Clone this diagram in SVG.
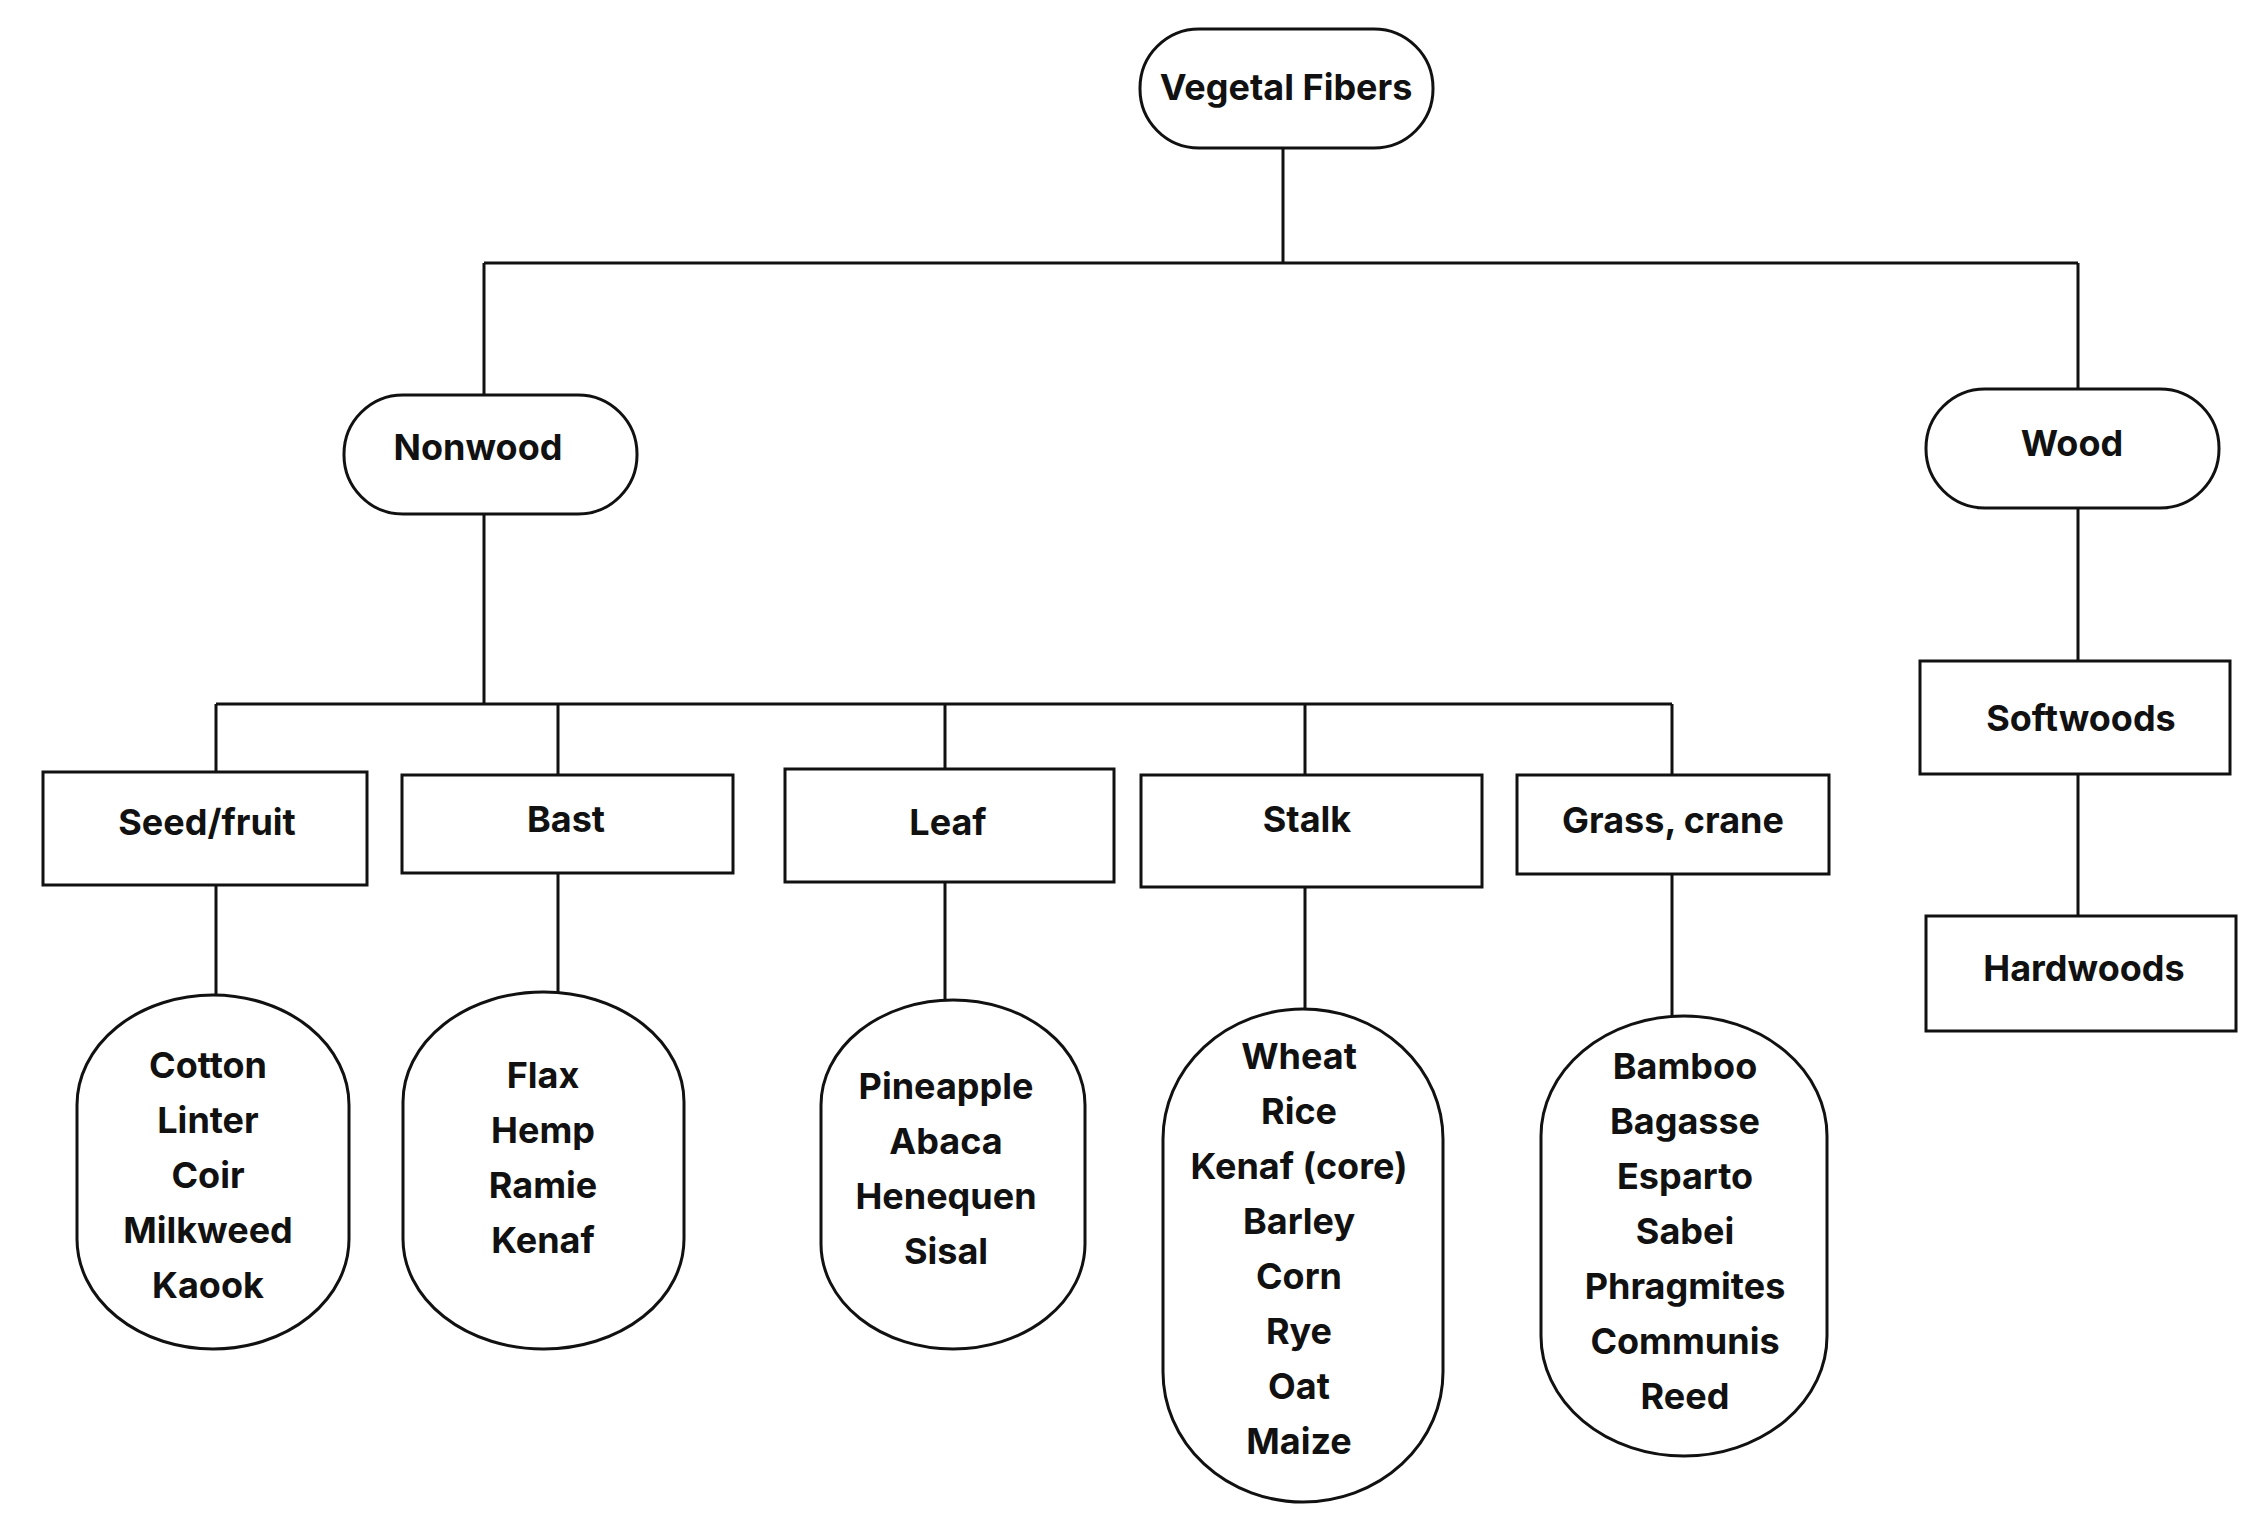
<svg xmlns="http://www.w3.org/2000/svg" width="2255" height="1526" viewBox="0 0 2255 1526">
<style>
.s{fill:#fff;stroke:#111;stroke-width:3}
.c{fill:none;stroke:#111;stroke-width:3}
text{font-family:Inter,"Open Sans",sans-serif;font-weight:700;font-size:36px;text-anchor:middle;fill:#111}
</style>
<rect width="2255" height="1526" fill="#fff"/>
<g id="connectors">
<path class="c" d="M1283 148V263M484 263H2078M484 263V395M2078 263V389M484 514V704M216 704H1672M216 704V772M558 704V775M945 704V769M1305 704V775M1672 704V775M216 885V995M558 873V992M945 882V1000M1305 887V1009M1672 874V1016M2078 508V661M2078 774V916"/>
</g>
<g id="vegetal"><rect class="s" x="1140" y="29" width="293" height="119" rx="59"/><text x="1286" y="100">Vegetal Fibers</text></g>
<g id="nonwood"><rect class="s" x="344" y="395" width="293" height="119" rx="59"/><text x="478" y="460">Nonwood</text></g>
<g id="wood"><rect class="s" x="1926" y="389" width="293" height="119" rx="59"/><text x="2072" y="456">Wood</text></g>
<g id="seed"><rect class="s" x="43" y="772" width="324" height="113"/><text x="207" y="835">Seed/fruit</text></g>
<g id="bast"><rect class="s" x="402" y="775" width="331" height="98"/><text x="566" y="832">Bast</text></g>
<g id="leaf"><rect class="s" x="785" y="769" width="329" height="113"/><text x="948" y="835">Leaf</text></g>
<g id="stalk"><rect class="s" x="1141" y="775" width="341" height="112"/><text x="1307" y="832">Stalk</text></g>
<g id="grass"><rect class="s" x="1517" y="775" width="312" height="99"/><text x="1673" y="833">Grass, crane</text></g>
<g id="softwoods"><rect class="s" x="1920" y="661" width="310" height="113"/><text x="2081" y="731">Softwoods</text></g>
<g id="hardwoods"><rect class="s" x="1926" y="916" width="310" height="115"/><text x="2084" y="981">Hardwoods</text></g>
<g id="seedlist"><rect class="s" x="77" y="995" width="272" height="354" rx="136" ry="110"/>
<text x="208" y="1078">Cotton</text><text x="208" y="1133">Linter</text><text x="208" y="1188">Coir</text><text x="208" y="1243">Milkweed</text><text x="208" y="1298">Kaook</text></g>
<g id="bastlist"><rect class="s" x="403" y="992" width="281" height="357" rx="140" ry="110"/>
<text x="543" y="1088">Flax</text><text x="543" y="1143">Hemp</text><text x="543" y="1198">Ramie</text><text x="543" y="1253">Kenaf</text></g>
<g id="leaflist"><rect class="s" x="821" y="1000" width="264" height="349" rx="132" ry="105"/>
<text x="946" y="1099">Pineapple</text><text x="946" y="1154">Abaca</text><text x="946" y="1209">Henequen</text><text x="946" y="1264">Sisal</text></g>
<g id="stalklist"><rect class="s" x="1163" y="1009" width="280" height="493" rx="140" ry="130"/>
<text x="1299" y="1069">Wheat</text><text x="1299" y="1124">Rice</text><text x="1299" y="1179">Kenaf (core)</text><text x="1299" y="1234">Barley</text><text x="1299" y="1289">Corn</text><text x="1299" y="1344">Rye</text><text x="1299" y="1399">Oat</text><text x="1299" y="1454">Maize</text></g>
<g id="grasslist"><rect class="s" x="1541" y="1016" width="286" height="440" rx="143" ry="120"/>
<text x="1685" y="1079">Bamboo</text><text x="1685" y="1134">Bagasse</text><text x="1685" y="1189">Esparto</text><text x="1685" y="1244">Sabei</text><text x="1685" y="1299">Phragmites</text><text x="1685" y="1354">Communis</text><text x="1685" y="1409">Reed</text></g>
</svg>
